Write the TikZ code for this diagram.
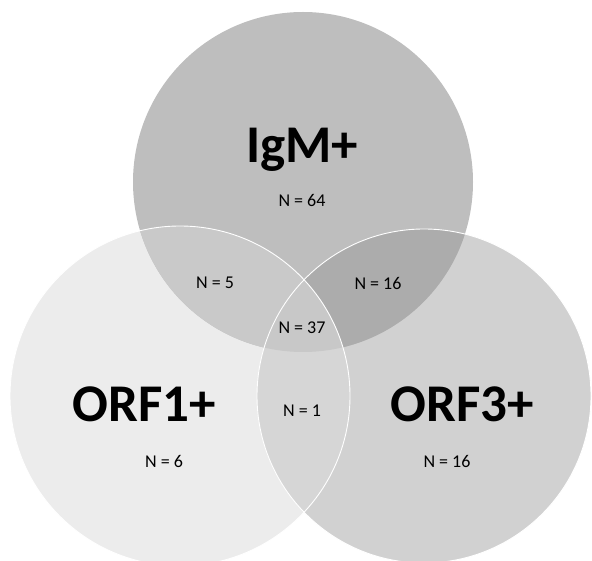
\documentclass[tikz,border=0pt]{standalone}
\usepackage{fontspec}
\setmainfont{Carlito}
\definecolor{cTop}{gray}{0.745}
\definecolor{cLeft}{gray}{0.925}
\definecolor{cRight}{gray}{0.820}
\definecolor{cTL}{gray}{0.790}
\definecolor{cTR}{gray}{0.675}
\definecolor{cLR}{gray}{0.840}
\definecolor{cAll}{gray}{0.785}
\begin{document}
\begin{tikzpicture}[x=1pt,y=-1pt,
  big/.style={font=\fontsize{53}{55}\selectfont\bfseries, text=black},
  count/.style={font=\fontsize{18}{20}\selectfont, text=black},
  rim/.style={draw=white, line width=0.9pt}]
\useasboundingbox (0,0) rectangle (592,561);
\coordinate (T) at (303,182);
\coordinate (L) at (180,396);
\coordinate (Rc) at (424,396);
\def\RT{170}
\def\RL{170}
\def\RR{167}
% single sets
\fill[cLeft] (L) circle (\RL);
\fill[cRight] (Rc) circle (\RR);
\fill[cTop] (T) circle (\RT);
% pairwise overlaps
\begin{scope}\clip (T) circle (\RT); \fill[cTL] (L) circle (\RL); \end{scope}
\begin{scope}\clip (T) circle (\RT); \fill[cTR] (Rc) circle (\RR); \end{scope}
\begin{scope}\clip (L) circle (\RL); \fill[cLR] (Rc) circle (\RR); \end{scope}
% triple overlap
\begin{scope}\clip (T) circle (\RT); \clip (L) circle (\RL); \fill[cAll] (Rc) circle (\RR); \end{scope}
% rims of the two lower circles
\draw[rim] (L) circle (\RL);
\draw[rim] (Rc) circle (\RR);
% labels
\node[big] (igm) at (302,150) {IgM+};
\node[big] (orf1) at (144,404) {ORF1+};
\node[big] (orf3) at (462,404) {ORF3+};
\node[count] (n64) at (302,200) {N = 64};
\node[count] (n5) at (215,283) {N = 5};
\node[count] (n16a) at (378,283) {N = 16};
\node[count] (n37) at (302,328) {N = 37};
\node[count] (n1) at (302,411) {N = 1};
\node[count] (n6) at (164,461) {N = 6};
\node[count] (n16b) at (447,461) {N = 16};
\end{tikzpicture}
\end{document}
